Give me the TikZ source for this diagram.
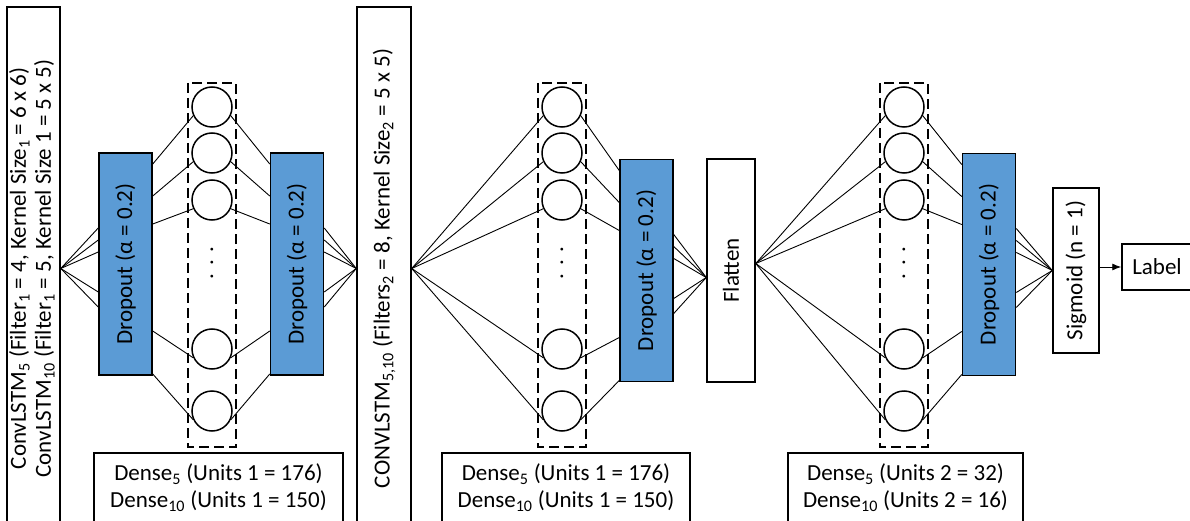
\documentclass[tikz,border=0pt]{standalone}
\usepackage{fontspec}
\setmainfont{Carlito}
\usetikzlibrary{arrows.meta}

\definecolor{dropblue}{HTML}{5B9BD5}
\tikzset{
  layer/.style={draw, fill=white, line width=1.5pt, inner sep=0pt},
  drop/.style={layer, fill=dropblue, minimum width=53pt, minimum height=222pt},
  unit/.style={draw, circle, fill=white, line width=1.5pt, minimum size=40pt, inner sep=0pt},
  dashbox/.style={draw, dash pattern=on 10pt off 5pt, line width=1.5pt},
  densebox/.style={layer, minimum height=70pt, align=center, font=\fontsize{23}{27}\selectfont},
  link/.style={line width=0.9pt},
}
\newcommand{\rot}[1]{\rotatebox{90}{#1}}

\begin{document}
\begin{tikzpicture}[x=1pt, y=-1pt, font=\fontsize{23}{25}\selectfont]
\useasboundingbox (0,0) rectangle (1190,521);

% layer boxes
\node[layer, minimum width=53pt, minimum height=523pt] (conv1) at (33.5,268.5)
  {\rot{\begin{tabular}{@{}c@{}}ConvLSTM\textsubscript{5} (Filter\textsubscript{1} = 4, Kernel Size\textsubscript{1} = 6 x 6)\\
   ConvLSTM\textsubscript{10} (Filter\textsubscript{1} = 5, Kernel Size 1 = 5 x 5)\end{tabular}}};
\node[drop] (d1) at (125.5,264) {\rot{Dropout (α = 0.2)}};
\node[drop] (d2) at (297,264) {\rot{Dropout (α = 0.2)}};
\node[layer, minimum width=54pt, minimum height=523pt] (conv2) at (384,268.5)
  {\rot{CONVLSTM\textsubscript{5,10} (Filters\textsubscript{2} = 8, Kernel Size\textsubscript{2} = 5 x 5)}};
\node[drop] (d3) at (646.5,270.5) {\rot{Dropout (α = 0.2)}};
\node[layer, minimum width=48pt, minimum height=223pt] (flat) at (731,270.5) {\rot{Flatten}};
\node[drop] (d4) at (989,264.5) {\rot{Dropout (α = 0.2)}};
\node[layer, minimum width=46pt, minimum height=165pt] (sig) at (1076,270.5) {\rot{Sigmoid (n = 1)}};
\node[layer, minimum width=70pt, minimum height=46pt] (lab) at (1157,267) {Label};

% dense units
\foreach \col/\x in {1/212, 2/562, 3/904} {
  \foreach \row/\y in {1/107, 2/153, 3/200, 4/349, 5/411}
    \node[unit] (c\col\row) at (\x,\y) {};
  \node (dots\col) at (\x,263) {\rot{.\,\,.\,\,.}};
  \draw[dashbox] (\x-24,83) rectangle (\x+24,447);
}

\node[densebox, minimum width=249pt] (dense1) at (218.5,488)
  {Dense\textsubscript{5} (Units 1 = 176)\\Dense\textsubscript{10} (Units 1 = 150)};
\node[densebox, minimum width=248pt] (dense2) at (566,488)
  {Dense\textsubscript{5} (Units 1 = 176)\\Dense\textsubscript{10} (Units 1 = 150)};
\node[densebox, minimum width=235pt] (dense3) at (905.5,488)
  {Dense\textsubscript{5} (Units 2 = 32)\\Dense\textsubscript{10} (Units 2 = 16)};

% connections
\foreach \s in {36,24,12,-28,-43} {
  \draw[link] (conv1.east) -- ([yshift=\s pt]d1.west);
  \draw[link] ([yshift=\s pt]d2.east) -- (conv2.west);
  \draw[link] ([yshift=\s pt]d3.east) -- ([yshift=-7pt]flat.west);
  \draw[link] ([yshift=\s pt]d4.east) -- (sig.west);
}
\foreach \i/\s in {1/100, 2/68, 3/40, 4/-67, 5/-110} {
  \draw[link] ([yshift=\s pt]d1.east) -- (c1\i.205);
  \draw[link] (c1\i.335) -- ([yshift=\s pt]d2.west);
  \draw[link] (conv2.east) -- (c2\i.205);
  \draw[link] (c2\i.335) -- ([yshift=\s pt]d3.west);
  \draw[link] ([yshift=7pt]flat.east) -- (c3\i.205);
  \draw[link] (c3\i.335) -- ([yshift=\s pt]d4.west);
}
\draw[link, -{Latex[length=9pt, width=7pt]}] (sig.east |- lab.west) -- (lab.west);
\end{tikzpicture}
\end{document}
